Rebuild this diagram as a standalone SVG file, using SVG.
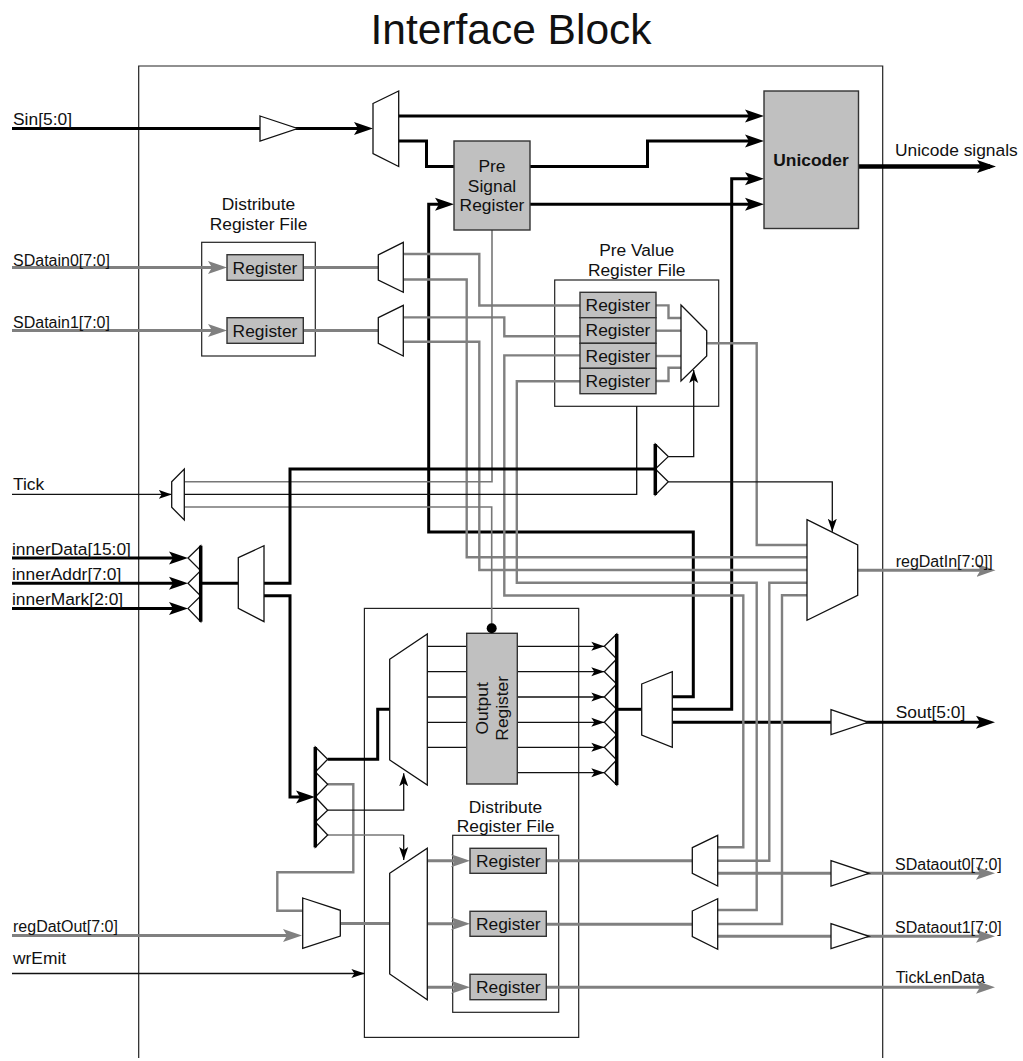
<svg xmlns="http://www.w3.org/2000/svg" width="1023" height="1061" viewBox="0 0 1023 1061">
<style>
text{font-family:"Liberation Sans",Arial,sans-serif;font-size:17.4px;fill:#111}
text.s{font-size:16px}
.m{text-anchor:middle}
.title{font-size:42.5px}
.b{font-weight:bold}
.k3,.k4,.g3,.g2,.g1,.k1{fill:none}
.k3{stroke:#000;stroke-width:3}
.k4{stroke:#000;stroke-width:4.5}
.g3{stroke:#808080;stroke-width:3}
.g2{stroke:#808080;stroke-width:2.4}
.g1{stroke:#777;stroke-width:1.6}
.k1{stroke:#111;stroke-width:1.3}
.box{fill:none;stroke:#222;stroke-width:1.2}
.reg{fill:#c0c0c0;stroke:#333;stroke-width:1.4}
.mux{fill:#fff;stroke:#111;stroke-width:1.3}
.bar{stroke:#000;stroke-width:3.5;fill:none}
.ak{marker-end:url(#ak)}
.ag{marker-end:url(#ag)}
.at{marker-end:url(#at)}
</style>
<defs>
<marker id="ak" markerUnits="userSpaceOnUse" markerWidth="19" markerHeight="14" refX="13" refY="7" orient="auto"><path d="M0,0.5 L19,7 L0,13.5 L4,7z" fill="#000"/></marker>
<marker id="ag" markerUnits="userSpaceOnUse" markerWidth="19" markerHeight="14" refX="13" refY="7" orient="auto"><path d="M0,0.5 L19,7 L0,13.5 L4,7z" fill="#808080"/></marker>
<marker id="at" markerUnits="userSpaceOnUse" markerWidth="13" markerHeight="10" refX="13" refY="5" orient="auto"><path d="M0,0.5 L13,5 L0,9.5 L3,5z" fill="#000"/></marker>
</defs>
<rect width="1023" height="1061" fill="#fff"/>
<text class="m title" x="511" y="44">Interface Block</text>
<g id="interface-block"><path class="box" d="M138.7,1058 V66 H882.7 V1058"/></g>
<g id="distribute-file-top"><rect class="box" x="201.7" y="242.3" width="113.6" height="113.7"/><text class="m" x="258.5" y="210">Distribute</text><text class="m" x="258.5" y="230">Register File</text></g>
<g id="pre-value-file"><rect class="box" x="554.7" y="280" width="164" height="126.3"/><text class="m" x="636.7" y="256">Pre Value</text><text class="m" x="636.7" y="276">Register File</text></g>
<g id="output-section"><rect class="box" x="364.4" y="608.4" width="214.3" height="429"/></g>
<g id="distribute-file-bottom"><rect class="box" x="452.7" y="835.3" width="106" height="177"/><text class="m" x="505.5" y="812.5">Distribute</text><text class="m" x="505.5" y="831.7">Register File</text></g>

<g id="connectors">
<line class="k3 ak" x1="12" y1="128.5" x2="367" y2="128.5"/>
<line class="k3 ak" x1="398" y1="116" x2="758" y2="116"/>
<polyline class="k3" points="398,141 426.5,141 426.5,166.5 454,166.5"/>
<polyline class="k3 ak" points="530,166.5 647.5,166.5 647.5,141 758,141"/>
<line class="k3 ak" x1="530" y1="204.3" x2="758" y2="204.3"/>
<polyline class="k3 ak" points="672,696.7 693.3,696.7 693.3,532 428.7,532 428.7,204.3 448,204.3"/>
<polyline class="k3 ak" points="672,709.3 731.7,709.3 731.7,178.7 758,178.7"/>
<line class="k4 ak" x1="858" y1="166.5" x2="990" y2="166.5"/>
<line class="k3 ak" x1="672" y1="722.3" x2="989" y2="722.3"/>

<line class="g3 ag" x1="12" y1="267.6" x2="221" y2="267.6"/>
<line class="g3 ag" x1="12" y1="330.6" x2="221" y2="330.6"/>
<line class="g3" x1="303" y1="267.6" x2="378.3" y2="267.6"/>
<line class="g3" x1="303" y1="330.6" x2="378.3" y2="330.6"/>

<polyline class="g2" points="403.3,254 479.3,254 479.3,305.5 580,305.5"/>
<polyline class="g2" points="403.3,279.5 466.7,279.5 466.7,557.3 807,557.3"/>
<polyline class="g2" points="403.3,317.4 504.3,317.4 504.3,336.3 580,336.3"/>
<polyline class="g2" points="403.3,341.7 479.3,341.7 479.3,570 807,570"/>
<polyline class="g2" points="580,355.4 504.3,355.4 504.3,595.5 743.3,595.5 743.3,847.3 717.7,847.3"/>
<polyline class="g2" points="580,381.2 516.8,381.2 516.8,582.7 756.7,582.7 756.7,910 717.7,910"/>
<polyline class="g2" points="656,305.4 668.5,305.4 668.5,318 681,318"/>
<line class="g2" x1="656" y1="330.7" x2="681" y2="330.7"/>
<line class="g2" x1="656" y1="356" x2="681" y2="356"/>
<polyline class="g2" points="656,381 668.5,381 668.5,367.7 681,367.7"/>
<polyline class="g2" points="706.7,343.3 756.7,343.3 756.7,545 807,545"/>
<polyline class="g2" points="807,582.7 769.3,582.7 769.3,860.7 717.7,860.7"/>
<polyline class="g2" points="807,595.3 782,595.3 782,924 717.7,924"/>

<polyline class="g1" points="492,230 492,481.8 184.3,481.8"/>
<polyline class="k1" points="636.7,406.3 636.7,494.4 184.3,494.4"/>
<polyline class="g1" points="184.3,507 491.7,507 491.7,628"/>
<line class="k1 at" x1="12" y1="494.4" x2="171.7" y2="494.4"/>

<polyline class="k1 at" points="668.3,456.6 693.7,456.6 693.7,370"/>
<polyline class="k1 at" points="668.3,481.8 832.3,481.8 832.3,531.7"/>

<line class="k3 ak" x1="12" y1="558" x2="182" y2="558"/>
<line class="k3 ak" x1="12" y1="583.3" x2="182" y2="583.3"/>
<line class="k3 ak" x1="12" y1="608.4" x2="182" y2="608.4"/>
<line class="k3" x1="200.7" y1="583.3" x2="238.3" y2="583.3"/>
<polyline class="k3" points="264,583.3 290,583.3 290,469 655,469"/>
<polyline class="k3 ak" points="264,595.7 290,595.7 290,797 309,797"/>

<line class="k1" x1="427.3" y1="646.3" x2="466.7" y2="646.3"/>
<line class="k1" x1="427.3" y1="671.7" x2="466.7" y2="671.7"/>
<line class="k1" x1="427.3" y1="697" x2="466.7" y2="697"/>
<line class="k1" x1="427.3" y1="722.3" x2="466.7" y2="722.3"/>
<line class="k1" x1="427.3" y1="747.3" x2="466.7" y2="747.3"/>
<line class="k1 at" x1="517.3" y1="646.3" x2="604.3" y2="646.3"/>
<line class="k1 at" x1="517.3" y1="671.7" x2="604.3" y2="671.7"/>
<line class="k1 at" x1="517.3" y1="697" x2="604.3" y2="697"/>
<line class="k1 at" x1="517.3" y1="722.3" x2="604.3" y2="722.3"/>
<line class="k1 at" x1="517.3" y1="747.3" x2="604.3" y2="747.3"/>
<line class="k1 at" x1="517.3" y1="772.7" x2="604.3" y2="772.7"/>
<line class="k3" x1="616.7" y1="709.3" x2="641.7" y2="709.3"/>

<polyline class="k3" points="327.7,759.3 377.7,759.3 377.7,709.3 389.7,709.3"/>
<polyline class="g2" points="327.7,784.3 353.3,784.3 353.3,872.3 277.3,872.3 277.3,910.7 302.7,910.7"/>
<polyline class="k1 at" points="327.7,810.2 403.7,810.2 403.7,773.3"/>
<polyline class="g1" points="327.7,835 403.7,835"/>
<polyline class="k1 at" points="403.7,835 403.7,860"/>

<line class="g3 ag" x1="12" y1="935.6" x2="296" y2="935.6"/>
<line class="k1 at" x1="12" y1="973.5" x2="364.4" y2="973.5"/>
<line class="g3" x1="340.3" y1="923.5" x2="389.7" y2="923.5"/>
<line class="g3 ag" x1="427.3" y1="860.7" x2="464" y2="860.7"/>
<line class="g3 ag" x1="427.3" y1="923.7" x2="464" y2="923.7"/>
<line class="g3 ag" x1="427.3" y1="987.2" x2="464" y2="987.2"/>
<line class="g3" x1="546.3" y1="860.7" x2="692.3" y2="860.7"/>
<line class="g3" x1="546.3" y1="924.2" x2="692.3" y2="924.2"/>
<line class="g3 ag" x1="546.3" y1="987.3" x2="989" y2="987.3"/>
<line class="g3 ag" x1="717.7" y1="873.3" x2="989" y2="873.3"/>
<line class="g3 ag" x1="717.7" y1="936.3" x2="989" y2="936.3"/>
<line class="g3 ag" x1="857.7" y1="570.3" x2="989.5" y2="570.3"/>
</g>

<g id="sin-buffer"><polygon class="mux" points="260,116 297.5,128.5 260,141"/></g>
<g id="sin-mux"><polygon class="mux" points="373,103.5 398.7,91 398.7,166.5 373,153.7"/></g>
<g id="pre-signal-register"><rect class="reg" x="454" y="141" width="76" height="89"/><text class="m" x="492" y="171.5">Pre</text><text class="m" x="492" y="191.5">Signal</text><text class="m" x="492" y="211">Register</text></g>
<g id="unicoder"><rect class="reg" x="764" y="91" width="94.5" height="137.5"/><text class="m b" x="811" y="166">Unicoder</text></g>
<g id="reg-in0"><rect class="reg" x="227" y="254.7" width="76.3" height="25.6"/><text class="m" x="265" y="274">Register</text></g>
<g id="reg-in1"><rect class="reg" x="227" y="317.7" width="76.3" height="25.6"/><text class="m" x="265" y="336.7">Register</text></g>
<g id="in-mux0"><polygon class="mux" points="378.3,254.8 403.3,242.3 403.3,292.3 378.3,280"/></g>
<g id="in-mux1"><polygon class="mux" points="378.3,317.7 403.3,305.3 403.3,356 378.3,343.3"/></g>
<g id="reg-pv0"><rect class="reg" x="580" y="292.3" width="76" height="25.4"/><text class="m" x="618" y="310.7">Register</text></g>
<g id="reg-pv1"><rect class="reg" x="580" y="317.7" width="76" height="25.6"/><text class="m" x="618" y="336.3">Register</text></g>
<g id="reg-pv2"><rect class="reg" x="580" y="343.3" width="76" height="25"/><text class="m" x="618" y="361.7">Register</text></g>
<g id="reg-pv3"><rect class="reg" x="580" y="368.3" width="76" height="25.4"/><text class="m" x="618" y="386.7">Register</text></g>
<g id="pv-mux"><polygon class="mux" points="681,305 706.7,330.7 706.7,356 681,381"/></g>
<g id="tick-mux"><polygon class="mux" points="171.7,481.7 184.3,469 184.3,520 171.7,507.3"/></g>
<g id="fan-tick"><polygon class="mux" points="655.3,444 668.3,456.6 655.3,469"/><polygon class="mux" points="655.3,469 668.3,481.8 655.3,495"/><line class="bar" x1="655.3" y1="444" x2="655.3" y2="495"/></g>
<g id="fan-in"><polygon class="mux" points="200.7,545.7 188,558 200.7,570.6"/><polygon class="mux" points="200.7,570.6 188,583.3 200.7,596"/><polygon class="mux" points="200.7,596 188,608.4 200.7,621.7"/><line class="bar" x1="200.7" y1="545.7" x2="200.7" y2="621.7"/></g>
<g id="inner-mux"><polygon class="mux" points="238.3,557.7 264,545.7 264,621.7 238.3,608.3"/></g>
<g id="fan-ctrl"><polygon class="mux" points="315.3,747 327.7,759.3 315.3,772"/><polygon class="mux" points="315.3,772 327.7,784.3 315.3,797"/><polygon class="mux" points="315.3,797 327.7,810.2 315.3,822"/><polygon class="mux" points="315.3,822 327.7,835 315.3,847.3"/><line class="bar" x1="315.3" y1="747" x2="315.3" y2="847.3"/></g>
<g id="output-demux"><polygon class="mux" points="389.7,659.3 427.3,634 427.3,785 389.7,760"/></g>
<g id="output-register"><rect class="reg" x="466.7" y="633.3" width="50.6" height="150.7"/><text class="m" transform="translate(488.3 708.3) rotate(-90)">Output</text><text class="m" transform="translate(508.3 708.3) rotate(-90)">Register</text><circle cx="491.7" cy="628.3" r="5" fill="#000"/></g>
<g id="fan-out"><polygon class="mux" points="616.7,634 604.3,646.3 616.7,659"/><polygon class="mux" points="616.7,659 604.3,671.7 616.7,684"/><polygon class="mux" points="616.7,684 604.3,697 616.7,709.3"/><polygon class="mux" points="616.7,709.3 604.3,722.3 616.7,735"/><polygon class="mux" points="616.7,735 604.3,747.3 616.7,760"/><polygon class="mux" points="616.7,760 604.3,772.7 616.7,785"/><line class="bar" x1="616.7" y1="634" x2="616.7" y2="785"/></g>
<g id="out-mux"><polygon class="mux" points="641.7,684 672.3,671.7 672.3,747.3 641.7,735"/></g>
<g id="reg-mux-in"><polygon class="mux" points="302.7,898 340.3,910.3 340.3,936 302.7,948.3"/></g>
<g id="bottom-demux"><polygon class="mux" points="389.7,873.3 427.3,848.3 427.3,999.7 389.7,974"/></g>
<g id="reg-d0"><rect class="reg" x="470" y="848.3" width="76.3" height="25"/><text class="m" x="508.3" y="866.7">Register</text></g>
<g id="reg-d1"><rect class="reg" x="470" y="911.3" width="76.3" height="25"/><text class="m" x="508.3" y="929.7">Register</text></g>
<g id="reg-d2"><rect class="reg" x="470" y="974.3" width="76.3" height="25.4"/><text class="m" x="508.3" y="993">Register</text></g>
<g id="sd-mux0"><polygon class="mux" points="692.3,847.7 717.7,835.3 717.7,886 692.3,873.3"/></g>
<g id="sd-mux1"><polygon class="mux" points="692.3,911 717.7,898.7 717.7,949.3 692.3,936.7"/></g>
<g id="reg-out-mux"><polygon class="mux" points="807,519.7 857.7,545 857.7,595.3 807,620.3"/></g>
<g id="buf-sout"><polygon class="mux" points="831,709.7 868,722.3 831,734.7"/></g>
<g id="buf-sd0"><polygon class="mux" points="831,860.7 869,873.3 831,886"/></g>
<g id="buf-sd1"><polygon class="mux" points="831,923.7 869,936.3 831,948.7"/></g>

<g id="labels">
<text x="13" y="125">Sin[5:0]</text>
<text class="s" x="13" y="265.5">SDatain0[7:0]</text>
<text class="s" x="13" y="328">SDatain1[7:0]</text>
<text x="13" y="490">Tick</text>
<text x="12" y="555">innerData[15:0]</text>
<text x="12" y="580">innerAddr[7:0]</text>
<text x="12" y="605">innerMark[2:0]</text>
<text class="s" x="13" y="932">regDatOut[7:0]</text>
<text x="13" y="964">wrEmit</text>
<text x="895" y="156">Unicode signals</text>
<text class="s" x="895.7" y="567">regDatIn[7:0]]</text>
<text x="895.7" y="718">Sout[5:0]</text>
<text class="s" x="895" y="870">SDataout0[7:0]</text>
<text class="s" x="895" y="933">SDataout1[7:0]</text>
<text class="s" x="895.7" y="983">TickLenData</text>
</g>
</svg>
